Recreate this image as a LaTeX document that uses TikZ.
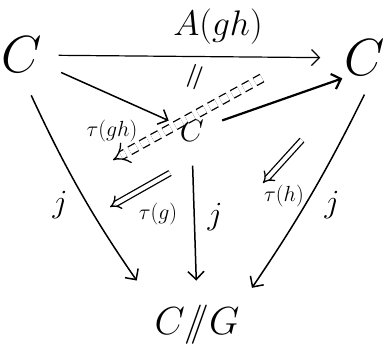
\documentclass[tikz,border=0pt]{standalone}
\usetikzlibrary{arrows.meta}

\tikzset{
  obj/.style={font=\Huge, scale=2.1, inner sep=1pt},
  midobj/.style={font=\Huge, scale=1.25, inner sep=3pt},
  lbl/.style={font=\Huge, scale=1.3, inner sep=0},
  small/.style={font=\Huge, scale=0.88, inner sep=0},
  onecell/.style={-{Straight Barb[length=8pt,width=16pt]}, line width=1.5pt},
  twocell/.style={double, double distance=4pt, line width=1.3pt, -{Implies}},
}

\begin{document}
\begin{tikzpicture}[x=1pt, y=1pt]
    \useasboundingbox[fill=white] (0,0) rectangle (386,-351);

    % the three copies of C and the quotient
    \node[obj] (cl) at (22,-55) {$C$};
    \node[obj] (cr) at (365,-58) {$C$};
    \node[midobj] (cm) at (192,-131) {$C$};
    \node[obj, scale=0.75] (quot) at (197,-325) {$C/\!\!/G$};

    % top row
    \draw[onecell, line width=1.2pt, shorten <=14pt, shorten >=22pt] (cl) -- (cr);
    \node[obj, scale=0.68, inner sep=0] (agh) at (218,-27) {$A(gh)$};

    \draw[onecell, shorten <=18pt, shorten >=8pt] (cl) -- (cm);
    \draw[onecell, line width=2.2pt, shorten <=15pt, shorten >=0pt] (cm) -- (cr.south west);
    \node[lbl, scale=1.2, rotate=70] (eq) at (198,-78) {$=$};

    % maps down to C//G
    \draw[onecell, shorten <=22pt, shorten >=28pt] (cl.south) to[bend right=5] (quot.north west);
    \draw[onecell, shorten <=20pt, shorten >=23pt] (cm.south) -- (quot.north);
    \draw[onecell, shorten <=18pt, shorten >=19pt] (cr.-70) to[bend left=4] (quot.north east);
    \node[lbl] (jl) at (60,-205) {$j$};
    \node[lbl] (jm) at (215,-217) {$j$};
    \node[lbl] (jr) at (332,-205) {$j$};

    % 2-cells
    \coordinate (tgh1) at (262,-78);
    \coordinate (tgh2) at (113,-160);
    \draw[twocell, double distance=7pt, dash pattern=on 8pt off 5pt] (tgh1) -- (tgh2);
    \node[small] (tghl) at (112,-131) {$\tau(gh)$};

    \coordinate (tg1) at (170,-173);
    \coordinate (tg2) at (110,-207);
    \draw[twocell] (tg1) -- (tg2);
    \node[small] (tgl) at (158,-214) {$\tau(g)$};

    \coordinate (th1) at (302,-140);
    \coordinate (th2) at (263,-183);
    \draw[twocell] (th1) -- (th2);
    \node[small] (thl) at (284,-196) {$\tau(h)$};
\end{tikzpicture}
\end{document}
